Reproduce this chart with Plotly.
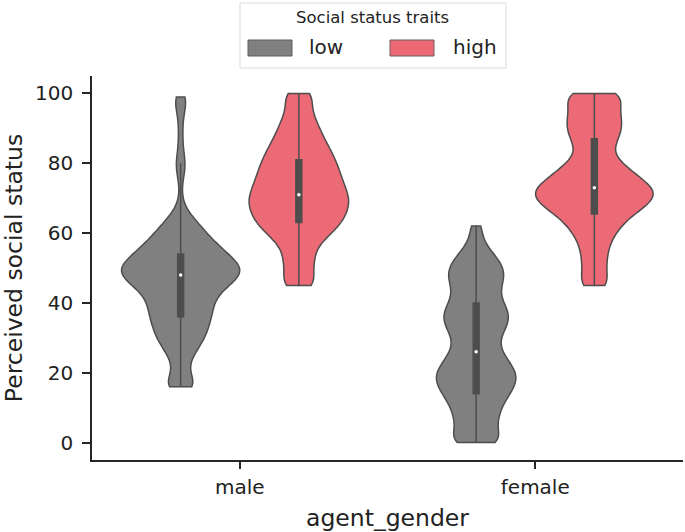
import numpy as np
import plotly.graph_objects as go

# ---------------- data (ratings and how often each rating occurs) ----------------
categories = ["male", "female"]
status_levels = ["low", "high"]

male_low_values = [16, 18, 20, 22, 24, 26, 28, 30, 32, 34, 36, 38, 40, 42, 44, 46, 48, 50, 52, 54,
                   56, 58, 60, 62, 64, 66, 68, 70, 72, 74, 76, 78, 80, 82, 84, 86, 88, 90, 92, 94,
                   96, 98, 99]
male_low_counts = [43, 22, 16, 14, 20, 28, 38, 46, 50, 54, 58, 60, 62, 66, 80, 100, 116, 120, 104, 88,
                   74, 60, 48, 38, 26, 14, 6, 3, 2, 3, 5, 9, 10, 7, 5, 4, 4, 4, 4, 6,
                   9, 10, 10]

male_high_values = [45, 47, 49, 51, 53, 55, 57, 59, 61, 63, 65, 67, 69, 71, 73, 75, 77, 79, 81, 83,
                    85, 87, 89, 91, 93, 95, 97, 99, 100]
male_high_counts = [47, 26, 28, 30, 31, 32, 40, 56, 74, 86, 92, 98, 102, 98, 92, 86, 82, 78, 72, 66,
                    58, 50, 44, 38, 32, 26, 23, 21, 30]

female_low_values = [0, 2, 4, 6, 8, 10, 12, 14, 16, 18, 20, 22, 24, 26, 28, 30, 32, 34, 36, 38,
                     40, 42, 44, 46, 48, 50, 52, 54, 56, 58, 60, 62]
female_low_counts = [79, 44, 44, 46, 48, 54, 62, 72, 84, 90, 88, 78, 66, 54, 48, 50, 60, 70, 74, 70,
                     58, 50, 50, 58, 64, 60, 52, 38, 24, 14, 10, 18]

female_high_values = [45, 47, 49, 51, 53, 55, 57, 59, 61, 63, 65, 67, 69, 71, 73, 75, 77, 79, 81, 83,
                      85, 87, 89, 91, 93, 95, 97, 99, 100]
female_high_counts = [44, 26, 26, 27, 28, 30, 34, 42, 52, 64, 82, 104, 130, 140, 134, 108, 90, 70, 50, 38,
                      42, 54, 60, 62, 60, 56, 52, 50, 64]

x_title = "agent_gender"
y_title = "Perceived social status"
legend_title = "Social status traits"
y_ticks = [0, 20, 40, 60, 80, 100]

# ---------------- styles ----------------
colors = {"low": "#808080", "high": "#eb6a76"}
edge = "#4d4d4d"
axis_col = "#262626"
text_col = "#222222"
font_family = "DejaVu Sans"

# target plot-area box in screen pixels
PL, PR, PT, PB = 92, 683, 76, 460
W, H = 685, 532

samples = {
    ("male", "low"): np.repeat(male_low_values, male_low_counts),
    ("male", "high"): np.repeat(male_high_values, male_high_counts),
    ("female", "low"): np.repeat(female_low_values, female_low_counts),
    ("female", "high"): np.repeat(female_high_values, female_high_counts),
}

fig = go.Figure()
for lvl in status_levels:
    xs, ys = [], []
    for cat in categories:
        s = samples[(cat, lvl)]
        xs += [cat] * len(s)
        ys += list(s)
    fig.add_trace(go.Violin(
        x=xs, y=ys, name=lvl, legendgroup=lvl, showlegend=False,
        offsetgroup=lvl, alignmentgroup="g",
        scalegroup="all", scalemode="width", spanmode="hard", bandwidth=2.5,
        points=False, fillcolor=colors[lvl], opacity=1,
        line=dict(color=edge, width=1.5),
        box=dict(visible=True, width=0.05, fillcolor=edge, line=dict(color=edge, width=1.5)),
        meanline=dict(visible=False), hoverinfo="skip",
    ))

for lvl in status_levels:
    fig.add_trace(go.Scatter(
        x=categories, y=[float(np.median(samples[(c, lvl)])) for c in categories],
        mode="markers", marker=dict(color="white", size=3.5, line=dict(width=0)),
        showlegend=False, hoverinfo="skip", offsetgroup=lvl, alignmentgroup="s",
    ))

# ---------------- manual legend (top center) ----------------
def px_x(p):
    return (p - PL) / float(PR - PL)

def px_y(p):
    return (PB - p) / float(PB - PT)

shapes = [
    dict(type="rect", xref="paper", yref="paper", x0=px_x(240), x1=px_x(506), y0=px_y(68), y1=px_y(3),
         line=dict(color="#dcdcdc", width=1), fillcolor="white", layer="above"),
    dict(type="rect", xref="paper", yref="paper", x0=px_x(248), x1=px_x(292), y0=px_y(56), y1=px_y(40),
         line=dict(color="#5e5e5e", width=1), fillcolor=colors["low"], layer="above"),
    dict(type="rect", xref="paper", yref="paper", x0=px_x(390), x1=px_x(434), y0=px_y(56), y1=px_y(40),
         line=dict(color="#6e5a5c", width=1), fillcolor=colors["high"], layer="above"),
]
annotations = [
    dict(text=legend_title, xref="paper", yref="paper", x=px_x(372), y=px_y(17), xanchor="center",
         yanchor="middle", showarrow=False, font=dict(size=16.5, color=text_col, family=font_family)),
    dict(text=status_levels[0], xref="paper", yref="paper", x=px_x(307), y=px_y(47), xanchor="left",
         yanchor="middle", showarrow=False, font=dict(size=20, color=text_col, family=font_family)),
    dict(text=status_levels[1], xref="paper", yref="paper", x=px_x(451), y=px_y(47), xanchor="left",
         yanchor="middle", showarrow=False, font=dict(size=20, color=text_col, family=font_family)),
]

fig.update_layout(
    width=W, height=H,
    margin=dict(l=PL, r=W - PR, t=PT, b=H - PB, autoexpand=False),
    paper_bgcolor="white", plot_bgcolor="white",
    violinmode="group", violingap=0.2, violingroupgap=0,
    scattermode="group", scattergap=0.2,
    font=dict(family=font_family, color=text_col),
    shapes=shapes, annotations=annotations,
    showlegend=False,
)
fig.update_xaxes(
    type="category", categoryorder="array", categoryarray=categories, range=[-0.5, 1.5],
    showline=True, linecolor=axis_col, linewidth=1.6, mirror=False, automargin=False,
    ticks="outside", ticklen=7, tickwidth=1.5, tickcolor=axis_col,
    showgrid=False, zeroline=False, tickfont=dict(size=20), ticklabelstandoff=1,
    title=dict(text=x_title, font=dict(size=23.5), standoff=12),
)
fig.update_yaxes(
    range=[-5, 105], tickvals=y_ticks, automargin=False,
    showline=True, linecolor=axis_col, linewidth=1.6, mirror=False,
    ticks="outside", ticklen=8, tickwidth=1.5, tickcolor=axis_col,
    showgrid=False, zeroline=False, tickfont=dict(size=20), ticklabelstandoff=5,
    title=dict(text=y_title, font=dict(size=23.5), standoff=29),
)

# remove the browser's default page margin so the figure sits at the window's top-left corner
fig.write_html("out.html", config={"displayModeBar": False},
               post_script="document.body.style.margin='0px';")
